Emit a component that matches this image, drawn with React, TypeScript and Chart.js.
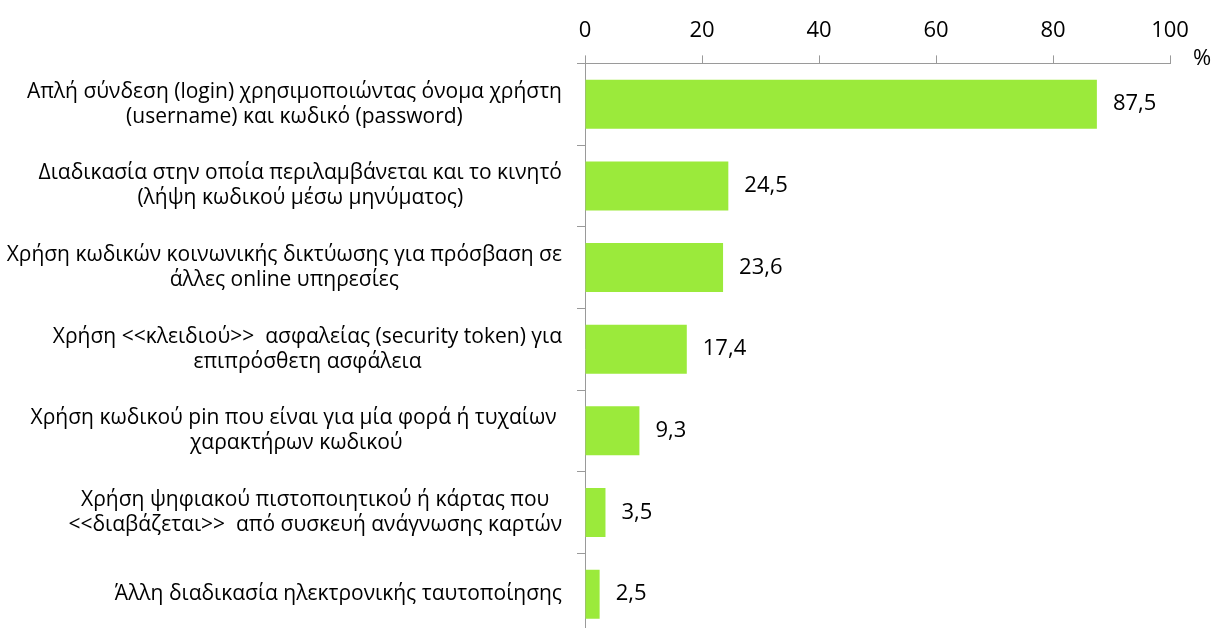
import React, { useEffect, useRef } from "react";
import { Chart, registerables } from "chart.js";

Chart.register(...registerables);

const categories: string[][] = [
  ["Απλή σύνδεση (login) χρησιμοποιώντας όνομα χρήστη", "(username) και κωδικό (password)"],
  ["Διαδικασία στην οποία περιλαμβάνεται και το κινητό", "(λήψη κωδικού μέσω μηνύματος)"],
  ["Χρήση κωδικών κοινωνικής δικτύωσης για πρόσβαση σε", "άλλες online υπηρεσίες"],
  ["Χρήση <<κλειδιού>>  ασφαλείας (security token) για", "επιπρόσθετη ασφάλεια"],
  ["Χρήση κωδικού pin που είναι για μία φορά ή τυχαίων ", "χαρακτήρων κωδικού"],
  ["Χρήση ψηφιακού πιστοποιητικού ή κάρτας που", "<<διαβάζεται>>  από συσκευή ανάγνωσης καρτών"],
  ["Άλλη διαδικασία ηλεκτρονικής ταυτοποίησης"],
];
const values: number[] = [87.5, 24.5, 23.6, 17.4, 9.3, 3.5, 2.5];
const axisMin = 0;
const axisMax = 100;
const axisStep = 20;
const unitLabel = "%";

const FONT = "'Open Sans', 'Noto Sans', sans-serif";
const LABEL_SIZE = 21;
const TICK_SIZE = 22;
const LINE_SPACING = 25;
const AXIS_GREY = "#9a9a9a";
const BAR_GREEN = "#9bea3b";

const fmt = (v: number) => v.toFixed(1).replace(".", ",");

const customText = {
  id: "customText",
  afterDraw(chart: any) {
    const ctx = chart.ctx as CanvasRenderingContext2D;
    const area = chart.chartArea;
    const yScale = chart.scales.y;
    ctx.save();
    ctx.fillStyle = "#000";
    // category labels: block right-aligned, lines centered within the block
    ctx.font = `${LABEL_SIZE}px ${FONT}`;
    ctx.textBaseline = "middle";
    ctx.textAlign = "center";
    const right = area.left - 23;
    categories.forEach((lines, i) => {
      const cy = yScale.getPixelForValue(i);
      const w = Math.max(...lines.map((l) => ctx.measureText(l).width));
      const cx = right - w / 2;
      lines.forEach((l, j) => {
        const y = cy + (j - (lines.length - 1) / 2) * LINE_SPACING;
        ctx.fillText(l, cx, y);
      });
    });
    // value labels
    ctx.font = `${TICK_SIZE}px ${FONT}`;
    ctx.textAlign = "left";
    const meta = chart.getDatasetMeta(0);
    meta.data.forEach((bar: any, i: number) => {
      ctx.fillText(fmt(values[i]), bar.x + 16, bar.y);
    });
    // unit
    ctx.fillText(unitLabel, area.right + 23, area.top - 5);
    ctx.restore();
  },
};

export default function App() {
  const ref = useRef<HTMLCanvasElement | null>(null);
  useEffect(() => {
    document.body.style.margin = "0";
    if (!ref.current) return;
    const chart = new Chart(ref.current, {
      type: "bar",
      data: {
        labels: categories.map((c) => c.join(" ")),
        datasets: [
          {
            data: values,
            backgroundColor: BAR_GREEN,
            borderWidth: 0,
            barPercentage: 0.6,
            categoryPercentage: 1,
          },
        ],
      },
      options: {
        indexAxis: "y",
        animation: false,
        responsive: false,
        maintainAspectRatio: false,
        layout: { padding: { left: 577, right: 42, top: 7, bottom: 15 } },
        plugins: { legend: { display: false }, tooltip: { enabled: false } },
        scales: {
          x: {
            position: "top",
            min: axisMin,
            max: axisMax,
            ticks: {
              stepSize: axisStep,
              color: "#000",
              padding: 11,
              font: { family: FONT, size: TICK_SIZE },
            },
            grid: { drawOnChartArea: false, drawTicks: true, tickLength: 8, color: AXIS_GREY },
            border: { display: true, color: AXIS_GREY, width: 1 },
          },
          y: {
            ticks: { display: false },
            grid: { drawOnChartArea: false, drawTicks: true, tickLength: 8, color: AXIS_GREY, offset: true },
            border: { display: true, color: AXIS_GREY, width: 1 },
          },
        },
      },
      plugins: [customText],
    });
    return () => chart.destroy();
  }, []);
  return (
    <div style={{ width: 1212, height: 628, overflow: "hidden", background: "#fff" }}>
      <canvas ref={ref} width={1212} height={650} style={{ display: "block" }} />
    </div>
  );
}
